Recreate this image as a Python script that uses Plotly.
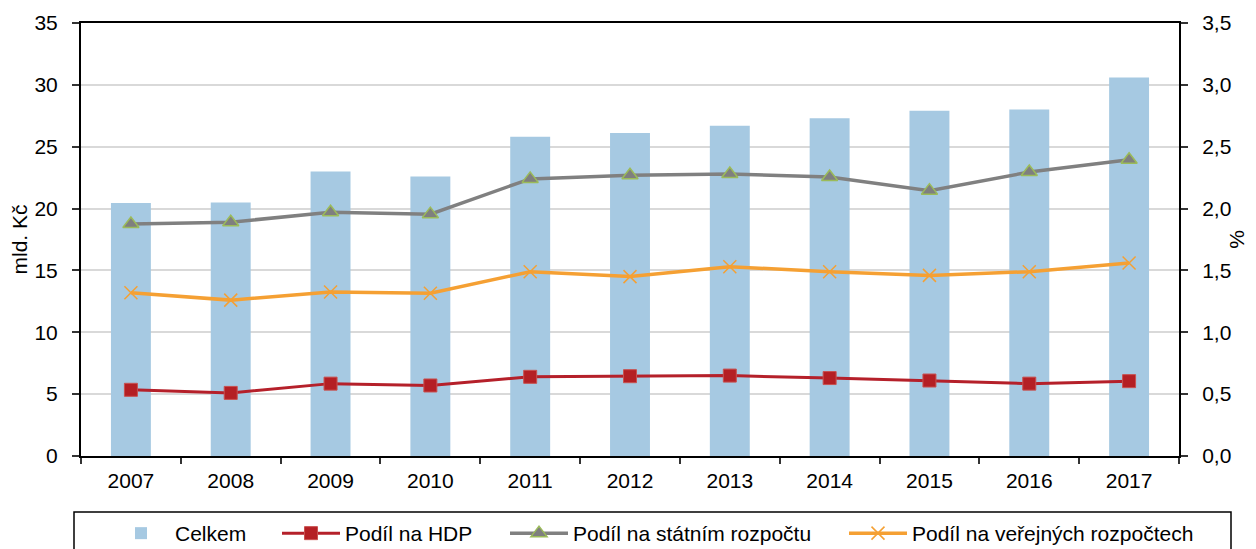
import plotly.graph_objects as go

years = ["2007", "2008", "2009", "2010", "2011", "2012", "2013", "2014", "2015", "2016", "2017"]
celkem = [20.45, 20.5, 23.0, 22.6, 25.8, 26.1, 26.7, 27.3, 27.9, 28.0, 30.6]
podil_hdp = [0.535, 0.51, 0.585, 0.57, 0.64, 0.645, 0.65, 0.63, 0.61, 0.585, 0.605]
podil_statni = [1.875, 1.89, 1.97, 1.955, 2.24, 2.27, 2.28, 2.255, 2.145, 2.295, 2.395]
podil_verejne = [1.32, 1.26, 1.325, 1.315, 1.49, 1.45, 1.53, 1.49, 1.46, 1.49, 1.56]

names = ["Celkem", "Podíl na HDP", "Podíl na státním rozpočtu", "Podíl na veřejných rozpočtech"]

FONT = "Liberation Sans, Arial, sans-serif"
FS = 21

fig = go.Figure()
fig.add_trace(go.Bar(x=years, y=celkem, name=names[0], marker=dict(color="#a6c9e2", line=dict(width=0)),
                     legend="legend", yaxis="y"))
fig.add_trace(go.Scatter(x=years, y=podil_hdp, name=names[1], yaxis="y2", mode="lines+markers",
                         line=dict(color="#b5202a", width=3),
                         marker=dict(symbol="square", size=13, color="#b41f24", line=dict(color="#c9504f", width=1)),
                         legend="legend2"))
fig.add_trace(go.Scatter(x=years, y=podil_statni, name=names[2], yaxis="y2", mode="lines+markers",
                         line=dict(color="#808080", width=3.5),
                         marker=dict(symbol="triangle-up", size=14, color="#7f7f7f", line=dict(color="#9bbb59", width=1.5)),
                         legend="legend3"))
fig.add_trace(go.Scatter(x=years, y=podil_verejne, name=names[3], yaxis="y2", mode="lines+markers",
                         line=dict(color="#f5a033", width=3.5),
                         marker=dict(symbol="x-thin-open", size=13, color="#f5a033", line=dict(color="#f5a033", width=1.5)),
                         legend="legend4"))

# page body adds an 8px offset; figure coordinates below are screen - 8
L, R, T, B = 73, 1171, 15, 448
W, H = 1240, 541
def px(x):
    return (x - L) / (R - L)
def py(y):
    return (B - y) / (B - T)

IW = 58
leg_common = dict(orientation="h", font=dict(family=FONT, size=FS, color="#000000"),
                  bgcolor="rgba(0,0,0,0)", borderwidth=0, xanchor="left", yanchor="middle",
                  itemwidth=IW, tracegroupgap=0)
ly = py(525.5)
off = IW + 10
fig.update_layout(
    legend=dict(x=px(167 - off), y=ly, **leg_common),
    legend2=dict(x=px(337 - off), y=ly, **leg_common),
    legend3=dict(x=px(565 - off), y=ly, **leg_common),
    legend4=dict(x=px(904 - off), y=ly, **leg_common),
)

fig.add_shape(type="rect", xref="paper", yref="paper", x0=px(66), x1=px(1223), y0=py(504), y1=py(620),
              line=dict(color="#000000", width=1.5), fillcolor="rgba(0,0,0,0)", layer="above")

fig.update_layout(
    width=W, height=H,
    margin=dict(l=L, r=W - R, t=T, b=H - B, autoexpand=False),
    paper_bgcolor="white", plot_bgcolor="white",
    font=dict(family=FONT, size=FS, color="#000000"),
    separators=", ",
    bargap=0.6,
    showlegend=True,
    xaxis=dict(type="category", range=[-0.5, 10.5], tickson="boundaries", ticks="outside", ticklen=6,
               tickwidth=1.5, tickcolor="#333333", showline=True, linecolor="#000000", linewidth=2,
               mirror=True, showgrid=False, ticklabelstandoff=5, tickfont=dict(size=FS)),
    yaxis=dict(range=[0, 35], dtick=5, ticks="outside", ticklen=7, tickwidth=1.5, tickcolor="#333333",
               showline=True, linecolor="#000000", linewidth=2, showgrid=True, gridcolor="#d9d9d9",
               gridwidth=1.5, zeroline=False, ticklabelstandoff=10,
               title=dict(text="mld. Kč", font=dict(size=FS), standoff=8)),
    yaxis2=dict(range=[0, 3.5], dtick=0.5, tickformat=".1f", overlaying="y", side="right",
                ticks="outside", ticklen=7, tickwidth=1.5, tickcolor="#333333",
                showline=True, linecolor="#000000", linewidth=2, showgrid=False, zeroline=False,
                ticklabelstandoff=10, title=dict(text="%", font=dict(size=FS), standoff=15)),
)

fig.write_html("out.html")
